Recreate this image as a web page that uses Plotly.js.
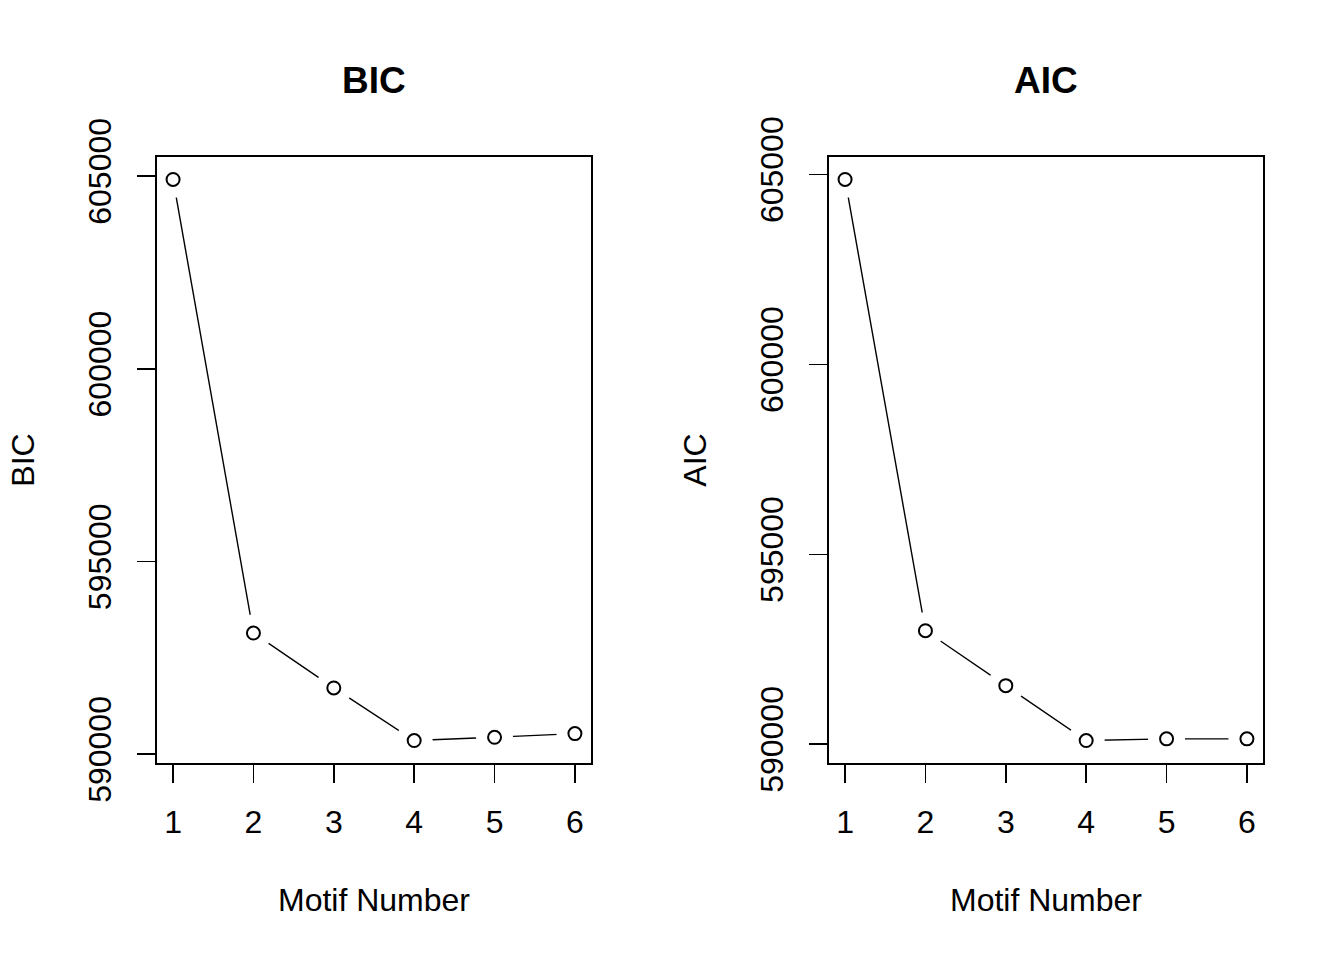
<!DOCTYPE html>
<html>
<head>
<meta charset="utf-8">
<script src="https://cdn.plot.ly/plotly-3.0.1.min.js"></script>
<style>html,body{margin:0;padding:0;background:#fff;}#chart{width:1344px;height:960px;}</style>
</head>
<body>
<div id="chart"></div>
<script>
const motifNumbers = [1, 2, 3, 4, 5, 6];
const bicValues = [604915, 593145, 591720, 590355, 590440, 590536];
const aicValues = [604870, 592989, 591543, 590097, 590142, 590142];
const yTickVals = [590000, 595000, 600000, 605000];
const yTickText = ['590000', '595000', '600000', '605000'];
const xTickText = ['1', '2', '3', '4', '5', '6'];

const FONT = 'Liberation Sans, Arial, sans-serif';

function rng(v) {
  const lo = Math.min(...v), hi = Math.max(...v), d = (hi - lo) * 0.04;
  return [lo - d, hi + d];
}

function panelTraces(y, xa, ya) {
  return [
    {x: motifNumbers, y: y, xaxis: xa, yaxis: ya, mode: 'lines', type: 'scatter',
     line: {color: '#000', width: 1.4}, showlegend: false, hoverinfo: 'skip'},
    {x: motifNumbers, y: y, xaxis: xa, yaxis: ya, mode: 'markers', type: 'scatter',
     marker: {symbol: 'circle', size: 37, color: '#fff', line: {width: 0}},
     showlegend: false, hoverinfo: 'skip'},
    {x: motifNumbers, y: y, xaxis: xa, yaxis: ya, mode: 'markers', type: 'scatter',
     marker: {symbol: 'circle-open', size: 13, color: '#000', line: {width: 2, color: '#000'}},
     showlegend: false}
  ];
}

function xAxis(domain, anchor) {
  return {
    domain: domain, anchor: anchor, range: [0.8, 6.2],
    tickvals: motifNumbers, ticktext: xTickText, ticks: 'outside', ticklen: 18, tickwidth: 1.6,
    ticklabelstandoff: 12,
    tickcolor: '#000', showline: true, mirror: true, linecolor: '#000', linewidth: 1.7,
    showgrid: false, zeroline: false,
    tickfont: {family: FONT, size: 32, color: '#000'},
    title: {text: 'Motif Number', font: {family: FONT, size: 32, color: '#000'}, standoff: 49}
  };
}

function yAxis(domain, anchor, vals, title) {
  return {
    domain: domain, anchor: anchor, range: rng(vals),
    tickvals: yTickVals, ticktext: yTickText, tickangle: -90, ticks: 'outside', ticklen: 18, tickwidth: 1.6,
    ticklabelstandoff: 14,
    tickcolor: '#000', showline: true, mirror: true, linecolor: '#000', linewidth: 1.7,
    showgrid: false, zeroline: false,
    tickfont: {family: FONT, size: 32, color: '#000'},
    title: {text: title, font: {family: FONT, size: 32, color: '#000'}, standoff: 37}
  };
}

const data = [].concat(panelTraces(bicValues, 'x', 'y'), panelTraces(aicValues, 'x2', 'y2'));

const yDom = [(960 - 763) / 960, (960 - 157) / 960];
const layout = {
  width: 1344, height: 960,
  margin: {l: 0, r: 0, t: 0, b: 0},
  paper_bgcolor: '#fff', plot_bgcolor: '#fff',
  showlegend: false,
  xaxis: xAxis([157 / 1344, 591 / 1344], 'y'),
  yaxis: yAxis(yDom, 'x', bicValues, 'BIC'),
  xaxis2: xAxis([829 / 1344, 1263 / 1344], 'y2'),
  yaxis2: yAxis(yDom, 'x2', aicValues, 'AIC'),
  annotations: [
    {text: '<b>BIC</b>', xref: 'paper', yref: 'paper', x: (157 + 591) / 2 / 1344, y: (960 - 80) / 960,
     xanchor: 'center', yanchor: 'middle', showarrow: false, font: {family: FONT, size: 37, color: '#000'}},
    {text: '<b>AIC</b>', xref: 'paper', yref: 'paper', x: (829 + 1263) / 2 / 1344, y: (960 - 80) / 960,
     xanchor: 'center', yanchor: 'middle', showarrow: false, font: {family: FONT, size: 37, color: '#000'}}
  ]
};

Plotly.newPlot('chart', data, layout, {staticPlot: true});
</script>
</body>
</html>
